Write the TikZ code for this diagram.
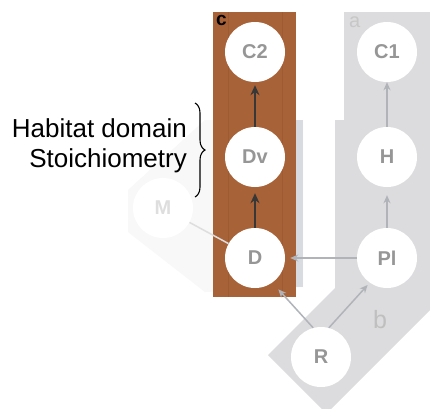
\documentclass[tikz,border=0pt]{standalone}
\usepackage{fontspec}
\setmainfont{Liberation Sans}
\usetikzlibrary{arrows.meta,decorations.pathreplacing}
\definecolor{brownc}{RGB}{168,98,56}
\definecolor{brownd}{RGB}{158,91,51}
\definecolor{greyshape}{RGB}{220,220,222}
\definecolor{faintshape}{RGB}{248,248,248}
\definecolor{stripc}{RGB}{216,219,223}
\definecolor{arrowgrey}{RGB}{176,180,185}
\definecolor{labelgrey}{RGB}{150,150,150}
\definecolor{darkarrow}{RGB}{55,55,55}
\begin{document}
\begin{tikzpicture}[x=1pt,y=-1pt,
  nd/.style={circle,fill=white,draw=none,minimum size=60pt,inner sep=0pt,
    text=labelgrey,font=\fontsize{20}{24}\selectfont\bfseries},
  garrow/.style={draw=arrowgrey,line width=1.5pt,-{Stealth[length=8pt,width=7pt]}},
  darrow/.style={draw=darkarrow,line width=2.5pt,-{Stealth[length=10pt,width=9pt]}},
  biglabel/.style={font=\fontsize{26}{30}\selectfont,anchor=base east,inner sep=0pt}
]
\useasboundingbox (0,0) rectangle (430,408);
\fill[white] (0,0) rectangle (430,408);
% grey shape a/b
\fill[greyshape] (344,12) -- (430,12) -- (430,310) -- (326.5,413.5) -- (268,355)
  -- (335,288) -- (335,120) -- (344,120) -- cycle;
% faint shape behind M
\fill[faintshape] (205,120) -- (303,120) -- (303,287) -- (205,292) -- (128,232) -- (128,190) -- cycle;
\fill[stripc] (296,120) rectangle (303,287);
% brown panel
\fill[brownc] (213,12) rectangle (296,297);
\draw[brownd,line width=0.8pt] (228,12) -- (228,297);
\draw[brownd,line width=0.8pt] (282,12) -- (282,297);
% nodes
\node[nd] (C2) at (255,52) {C2};
\node[nd] (Dv) at (255,157) {Dv};
\node[nd] (D) at (255,258) {D};
\node[nd] (C1) at (387,52) {C1};
\node[nd] (H) at (387,157) {H};
\node[nd] (Pl) at (387,258) {Pl};
\node[nd] (R) at (321,357) {R};
\node[nd,fill=white,text=black!13] (M) at (163,208) {M};
% connectors
\draw[black!13,line width=1.5pt] (M) -- (D);
\draw[darrow,shorten >=6pt] (D) -- (Dv);
\draw[darrow,shorten >=3pt] (Dv) -- (C2);
\draw[garrow] (H) -- (C1);
\draw[garrow,shorten >=8pt] (Pl) -- (H);
\draw[garrow,shorten >=5pt] (Pl) -- (D);
\draw[garrow,shorten >=9pt] (R.105) -- (D.-55);
\draw[garrow,shorten >=3pt] (R.75) -- (Pl.-125);
% panel letters
\node[anchor=base west,inner sep=0pt,font=\fontsize{19}{22}\selectfont\bfseries] (lc) at (216,25) {c};
\node[anchor=base west,inner sep=0pt,text=black!22,font=\fontsize{20}{24}\selectfont] (la) at (349,27) {a};
\node[anchor=base west,inner sep=0pt,text=black!25,font=\fontsize{25}{28}\selectfont] (lb) at (373,328) {b};
% side text
\node[biglabel] (hab) at (187,137) {Habitat domain};
\node[biglabel] (sto) at (187,167) {Stoichiometry};
\draw[line width=1.1pt,decorate,decoration={brace,amplitude=10pt}] (195,103) -- (195,197);
\end{tikzpicture}
\end{document}
